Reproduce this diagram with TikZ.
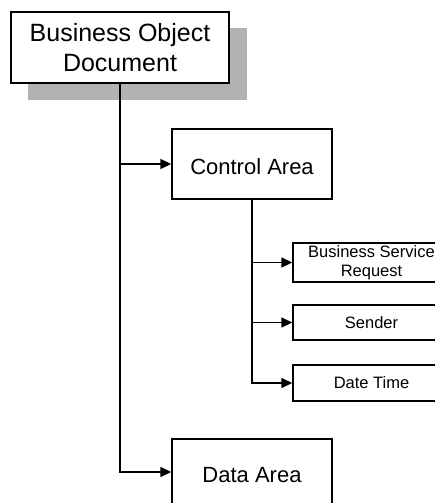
\documentclass[tikz,border=0pt]{standalone}
\usepackage{fontspec}
\setmainfont{Liberation Sans}
\usetikzlibrary{arrows.meta}
\begin{document}
\begin{tikzpicture}[x=1pt,y=-1pt,
  box/.style={draw=black,fill=white,line width=1.4pt,inner sep=0pt,align=center},
  arr/.style={line width=1.4pt,-{Triangle[length=11pt,width=10pt]}},
  big/.style={font=\fontsize{25}{30}\selectfont},
  mid/.style={font=\fontsize{22}{26}\selectfont,text height=21.5pt,text depth=0pt},
  small/.style={font=\fontsize{16.5}{19}\selectfont}]
\useasboundingbox (0,0) rectangle (435,503);
\fill[black!30] (28,28) rectangle (247,100);
\node[box,big,minimum width=218pt,minimum height=71pt] (bod) at (120,47.5) {Business Object\\Document};
\node[box,mid,minimum width=160pt,minimum height=70pt] (ctrl) at (252,164) {Control Area};
\node[box,mid,minimum width=160pt,minimum height=66pt] (data) at (252,472) {Data Area};
\node[box,small,minimum width=157pt,minimum height=39pt] (bsr) at (371.5,262.5) {Business Service\\Request};
\node[box,small,minimum width=157pt,minimum height=35pt] (snd) at (371.5,322.5) {Sender};
\node[box,small,minimum width=157pt,minimum height=36pt] (dt) at (371.5,383) {Date Time};
\draw[arr] (bod.south) |- (data.west);
\draw[arr] (bod.south |- ctrl.west) -- (ctrl.west);
\draw[arr] (ctrl.south) |- (dt.west);
\draw[arr] (ctrl.south |- bsr.west) -- (bsr.west);
\draw[arr] (ctrl.south |- snd.west) -- (snd.west);
\end{tikzpicture}
\end{document}
